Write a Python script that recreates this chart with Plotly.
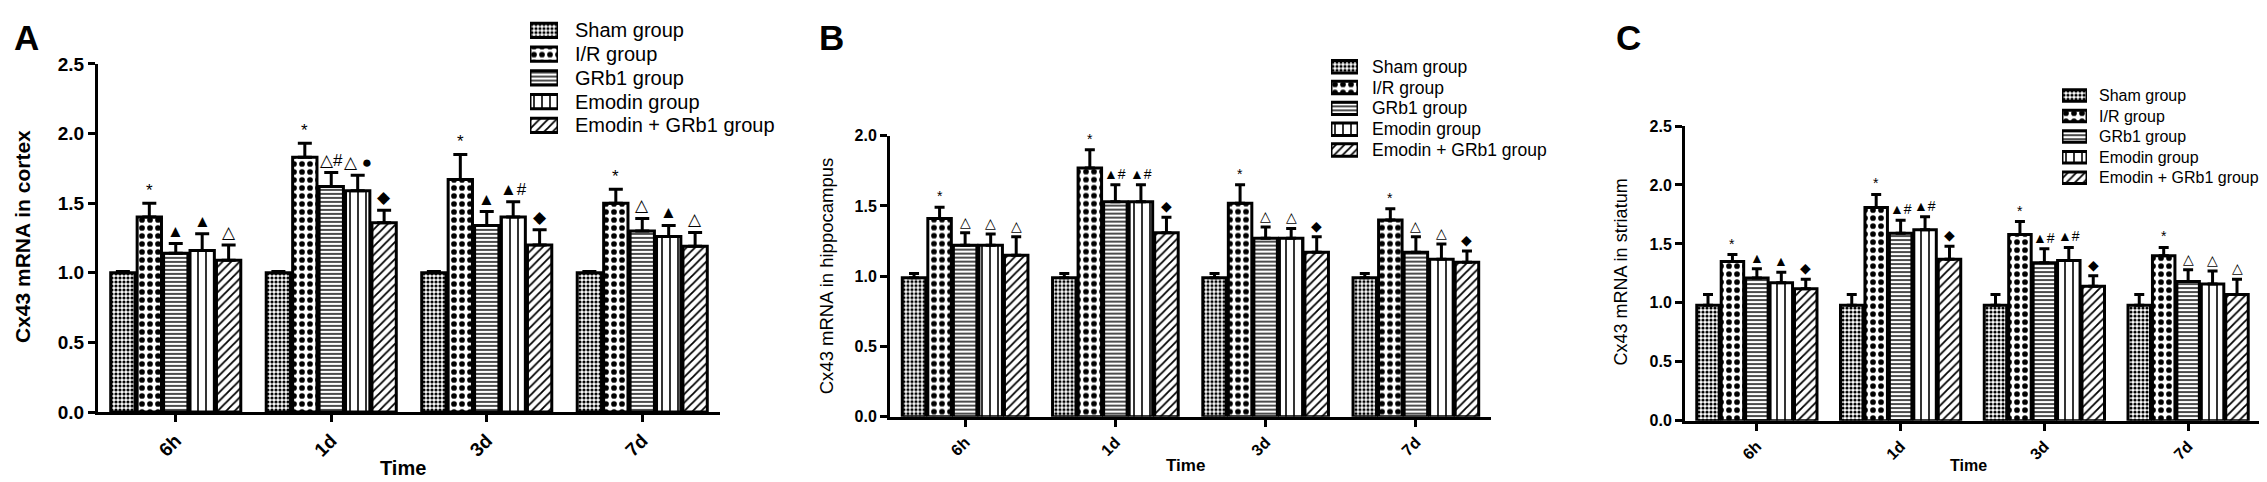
import plotly.graph_objects as go

times = ["6h", "1d", "3d", "7d"]
groups = ["Sham group", "I/R group", "GRb1 group", "Emodin group", "Emodin + GRb1 group"]

# A: cortex
cortex_sham = [1.00, 1.00, 1.00, 1.00]
cortex_ir = [1.40, 1.83, 1.67, 1.50]
cortex_grb1 = [1.14, 1.62, 1.34, 1.30]
cortex_emodin = [1.16, 1.59, 1.40, 1.26]
cortex_combo = [1.09, 1.36, 1.20, 1.19]
cortex_sham_err = [0.01, 0.01, 0.01, 0.01]
cortex_ir_err = [0.10, 0.10, 0.18, 0.10]
cortex_grb1_err = [0.07, 0.10, 0.10, 0.09]
cortex_emodin_err = [0.12, 0.11, 0.11, 0.08]
cortex_combo_err = [0.11, 0.09, 0.11, 0.10]

# B: hippocampus
hippo_sham = [0.99, 0.99, 0.99, 0.99]
hippo_ir = [1.41, 1.77, 1.52, 1.40]
hippo_grb1 = [1.22, 1.53, 1.27, 1.17]
hippo_emodin = [1.22, 1.53, 1.27, 1.12]
hippo_combo = [1.15, 1.31, 1.17, 1.10]
hippo_sham_err = [0.03, 0.03, 0.03, 0.03]
hippo_ir_err = [0.08, 0.13, 0.13, 0.08]
hippo_grb1_err = [0.09, 0.12, 0.08, 0.11]
hippo_emodin_err = [0.08, 0.12, 0.07, 0.11]
hippo_combo_err = [0.13, 0.11, 0.11, 0.08]

# C: striatum
stria_sham = [0.98, 0.98, 0.98, 0.98]
stria_ir = [1.35, 1.81, 1.58, 1.40]
stria_grb1 = [1.21, 1.59, 1.34, 1.18]
stria_emodin = [1.17, 1.62, 1.36, 1.16]
stria_combo = [1.12, 1.37, 1.14, 1.07]
stria_sham_err = [0.09, 0.09, 0.09, 0.09]
stria_ir_err = [0.06, 0.11, 0.11, 0.07]
stria_grb1_err = [0.08, 0.11, 0.12, 0.10]
stria_emodin_err = [0.09, 0.11, 0.11, 0.11]
stria_combo_err = [0.08, 0.11, 0.09, 0.13]

# significance marks
no_marks = ["", "", "", ""]
star_marks = ["*", "*", "*", "*"]
cortex_grb1_marks = ["▲", "△#", "▲", "△"]
cortex_emodin_marks = ["▲", "△ ●", "▲#", "▲"]
cortex_combo_marks = ["△", "◆", "◆", "△"]
hippo_grb1_marks = ["△", "▲#", "△", "△"]
hippo_emodin_marks = ["△", "▲#", "△", "△"]
hippo_combo_marks = ["△", "◆", "◆", "◆"]
stria_grb1_marks = ["▲", "▲#", "▲#", "△"]
stria_emodin_marks = ["▲", "▲#", "▲#", "△"]
stria_combo_marks = ["◆", "◆", "◆", "△"]

W, H = 2267, 482
FONT = "Liberation Sans, Arial, DejaVu Sans"
BARGAP = 0.15
slot = (1 - BARGAP) / len(groups)
xs = list(range(len(times)))
rows = list(range(len(groups)))

patterns = [
    dict(shape=".", size=4, solidity=0.5),
    dict(shape=".", size=8, solidity=0.4),
    dict(shape="-", size=4, solidity=0.35),
    dict(shape="|", size=8, solidity=0.2),
    dict(shape="/", size=6, solidity=0.3),
]

panels = [
    dict(letter="A", title="Cx43 mRNA in cortex", title_bold=True, title_size=21, title_x=14, title_y=229,
         means=[cortex_sham, cortex_ir, cortex_grb1, cortex_emodin, cortex_combo],
         errs=[cortex_sham_err, cortex_ir_err, cortex_grb1_err, cortex_emodin_err, cortex_combo_err],
         marks=[no_marks, star_marks, cortex_grb1_marks, cortex_emodin_marks, cortex_combo_marks],
         xdom=(90, 712), ytop=48, ybot=412, ymax=2.5, letter_x=4, tick_size=19, time_size=20,
         time_x=395, time_y=471, mark_size=17, cap=7,
         sw_x=(522, 550), sw_h=15, row0=13, row_dy=24.8, text_x=565, leg_size=20),
    dict(letter="B", title="Cx43 mRNA in hippocampus", title_bold=False, title_size=18.5, title_x=818, title_y=270,
         means=[hippo_sham, hippo_ir, hippo_grb1, hippo_emodin, hippo_combo],
         errs=[hippo_sham_err, hippo_ir_err, hippo_grb1_err, hippo_emodin_err, hippo_combo_err],
         marks=[no_marks, star_marks, hippo_grb1_marks, hippo_emodin_marks, hippo_combo_marks],
         xdom=(882, 1483), ytop=123, ybot=417, ymax=2.0, letter_x=809, tick_size=16, time_size=17,
         time_x=1177, time_y=468, mark_size=14, cap=5,
         sw_x=(1323, 1350), sw_h=13, row0=51, row_dy=21.75, text_x=1362, leg_size=17.5),
    dict(letter="C", title="Cx43 mRNA in striatum", title_bold=False, title_size=18, title_x=1613, title_y=266,
         means=[stria_sham, stria_ir, stria_grb1, stria_emodin, stria_combo],
         errs=[stria_sham_err, stria_ir_err, stria_grb1_err, stria_emodin_err, stria_combo_err],
         marks=[no_marks, star_marks, stria_grb1_marks, stria_emodin_marks, stria_combo_marks],
         xdom=(1677, 2252), ytop=113, ybot=421, ymax=2.5, letter_x=1606, tick_size=16, time_size=16,
         time_x=1960, time_y=468, mark_size=14, cap=5,
         sw_x=(2054, 2079), sw_h=12, row0=81, row_dy=21.5, text_x=2089, leg_size=16),
]


def marker_for(i):
    return dict(color="white", line=dict(color="black", width=3),
                pattern=dict(fillmode="overlay", fgcolor="black", bgcolor="white", fgopacity=1, **patterns[i]))


fig = go.Figure()
layout = dict(width=W, height=H, margin=dict(l=0, r=0, t=0, b=0), barmode="group",
              bargap=BARGAP, bargroupgap=0.08, plot_bgcolor="rgba(0,0,0,0)", paper_bgcolor="white",
              font=dict(family=FONT, color="black"), showlegend=False)
annotations = []

for k, p in enumerate(panels):
    n = "" if k == 0 else str(k + 1)
    xa, ya = "x" + n, "y" + n
    for i, g in enumerate(groups):
        fig.add_trace(go.Bar(
            x=xs, y=p["means"][i], name=g, xaxis=xa, yaxis=ya,
            marker=marker_for(i),
            error_y=dict(type="data", symmetric=False, array=p["errs"][i], arrayminus=[0] * len(xs),
                         color="black", thickness=3, width=p["cap"]),
        ))
        for j, t in enumerate(xs):
            if p["marks"][i][j]:
                annotations.append(dict(
                    x=t + (i - 2) * slot, y=p["means"][i][j] + p["errs"][i][j], xref=xa, yref=ya,
                    text=p["marks"][i][j], showarrow=False, xanchor="center", yanchor="bottom", yshift=1,
                    font=dict(size=p["mark_size"], family=FONT, color="black")))

    tickfont = dict(family=FONT, size=p["tick_size"], color="black", weight="bold")
    axis_common = dict(showline=True, linewidth=3, linecolor="black", ticks="outside", ticklen=7,
                       tickwidth=3, tickcolor="black", showgrid=False, zeroline=False, tickfont=tickfont)
    layout["xaxis" + n] = dict(domain=[p["xdom"][0] / W, p["xdom"][1] / W], range=[-0.5, 3.5],
                               tickmode="array", tickvals=xs, ticktext=times, tickangle=-45,
                               anchor=ya, **axis_common)
    layout["yaxis" + n] = dict(domain=[1 - p["ybot"] / H, 1 - p["ytop"] / H], range=[0, p["ymax"]],
                               dtick=0.5, tick0=0, tickformat=".1f", anchor=xa, **axis_common)

    # legend: swatches on a hidden axis pair, labels as text
    m = str(k + 4)
    lxa, lya = "x" + m, "y" + m
    top = p["row0"] - p["row_dy"] / 2
    bot = p["row0"] + p["row_dy"] * (len(groups) - 0.5)
    bh = p["sw_h"] / p["row_dy"]
    for i, g in enumerate(groups):
        fig.add_trace(go.Bar(
            x=[1], y=[rows[i]], orientation="h", base=0, width=bh, offset=-bh / 2,
            xaxis=lxa, yaxis=lya, marker=marker_for(i), hoverinfo="skip"))
        annotations.append(dict(x=p["text_x"] / W, y=rows[i], xref="paper", yref=lya, text=g,
                                showarrow=False, xanchor="left", yanchor="middle",
                                font=dict(size=p["leg_size"], family=FONT, color="black")))
    layout["xaxis" + m] = dict(domain=[p["sw_x"][0] / W, p["sw_x"][1] / W], range=[0, 1], visible=False,
                               anchor=lya, fixedrange=True)
    layout["yaxis" + m] = dict(domain=[1 - bot / H, 1 - top / H], range=[len(groups) - 0.5, -0.5],
                               visible=False, anchor=lxa, fixedrange=True)

    annotations.append(dict(x=p["letter_x"] / W, y=1.0, xref="paper", yref="paper", text=p["letter"],
                            showarrow=False, xanchor="left", yanchor="top", yshift=2,
                            font=dict(size=35, family=FONT, color="black", weight="bold")))
    annotations.append(dict(x=p["title_x"] / W, y=1 - p["title_y"] / H, xref="paper", yref="paper",
                            text=p["title"], textangle=-90, showarrow=False,
                            xanchor="center", yanchor="middle",
                            font=dict(size=p["title_size"], family=FONT, color="black",
                                      weight="bold" if p["title_bold"] else "normal")))
    annotations.append(dict(x=p["time_x"] / W, y=1 - p["time_y"] / H,
                            xref="paper", yref="paper", text="Time", showarrow=False,
                            xanchor="center", yanchor="middle",
                            font=dict(size=p["time_size"], family=FONT, color="black", weight="bold")))

layout["annotations"] = annotations
fig.update_layout(**layout)
fig.write_html("out.html")
